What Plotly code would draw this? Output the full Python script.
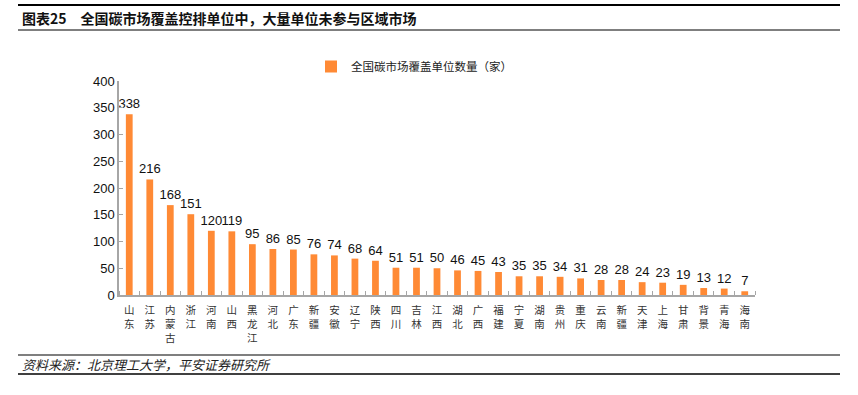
import plotly.graph_objects as go

provinces = ["山东", "江苏", "内蒙古", "浙江", "河南", "山西", "黑龙江", "河北", "广东", "新疆",
             "安徽", "辽宁", "陕西", "四川", "吉林", "江西", "湖北", "广西", "福建", "宁夏",
             "湖南", "贵州", "重庆", "云南", "新疆", "天津", "上海", "甘肃", "背景", "青海", "海南"]
counts = [338, 216, 168, 151, 120, 119, 95, 86, 85, 76,
          74, 68, 64, 51, 51, 50, 46, 45, 43, 35,
          35, 34, 31, 28, 28, 24, 23, 19, 13, 12, 7]
series_name = "全国碳市场覆盖单位数量（家）"
y_ticks = [0, 50, 100, 150, 200, 250, 300, 350, 400]

title_text = "图表25　全国碳市场覆盖控排单位中，大量单位未参与区域市场"
source_text = "资料来源：北京理工大学，平安证券研究所"

W, H = 858, 395
CJK = "Noto Sans CJK SC, Liberation Sans, Arial, sans-serif"
NUM = "Liberation Sans, Arial, sans-serif"
ORANGE = "#FF8A35"

xs = list(range(len(provinces)))
ticktext = ["<br>".join(list(p)) for p in provinces]

fig = go.Figure()
fig.add_trace(go.Bar(
    x=xs, y=counts, name=series_name,
    marker=dict(color=ORANGE, line=dict(width=0)),
    width=0.33,
    text=[str(v) for v in counts], textposition="outside",
    constraintext="none",
    textfont=dict(family=NUM, size=13, color="#111111"),
    cliponaxis=False,
))

def px_x(p):
    return p / W

def px_y(p):
    return 1 - p / H

fig.update_layout(
    width=W, height=H,
    margin=dict(l=0, r=0, t=0, b=0),
    paper_bgcolor="white", plot_bgcolor="white",
    showlegend=True,
    legend=dict(x=px_x(311), y=px_y(52), xanchor="left", yanchor="top",
                font=dict(family=CJK, size=11.5, color="#222222"),
                itemwidth=30, bgcolor="rgba(0,0,0,0)"),
    xaxis=dict(
        domain=[px_x(119), px_x(755)],
        range=[-0.5, len(provinces) - 0.5],
        tickmode="array", tickvals=xs, ticktext=ticktext,
        ticks="", showline=True, linecolor="#A6A6A6", linewidth=1.5,
        ticklabelstandoff=5,
        tickfont=dict(family=CJK, size=10.5, color="#333333"),
        showgrid=False, zeroline=False, automargin=False,
        minor=dict(tickmode="array", tickvals=[i - 0.5 for i in range(len(provinces) + 1)],
                   ticks="inside", ticklen=4, tickcolor="#A6A6A6", tickwidth=1),
        fixedrange=True,
    ),
    yaxis=dict(
        domain=[px_y(295), px_y(81)],
        range=[0, 400], tickmode="array", tickvals=y_ticks,
        ticks="inside", ticklen=4, tickcolor="#A6A6A6",
        showline=True, linecolor="#A6A6A6", linewidth=1.5,
        tickfont=dict(family=NUM, size=13, color="#111111"),
        showgrid=False, zeroline=False, automargin=False,
        fixedrange=True,
    ),
)

# header & footer rules
rules = [(5, 2.2, "#000000"), (30, 1.2, "#000000"), (355, 1.2, "#000000"), (374, 1.6, "#000000")]
for yy, lw, col in rules:
    fig.add_shape(type="line", xref="paper", yref="paper",
                  x0=px_x(18), x1=px_x(840), y0=px_y(yy), y1=px_y(yy),
                  line=dict(color=col, width=lw))

fig.add_annotation(text="<b>" + title_text + "</b>", xref="paper", yref="paper",
                   x=px_x(20), y=px_y(18), xanchor="left", yanchor="middle",
                   showarrow=False, font=dict(family=CJK, size=14, color="#111111"))
fig.add_annotation(text="<i>" + source_text + "</i>", xref="paper", yref="paper",
                   x=px_x(20), y=px_y(364.5), xanchor="left", yanchor="middle",
                   showarrow=False, font=dict(family=CJK, size=13, color="#222222"))

fig.write_html("out.html", config={"displayModeBar": False},
               post_script="document.body.style.margin='0';")
